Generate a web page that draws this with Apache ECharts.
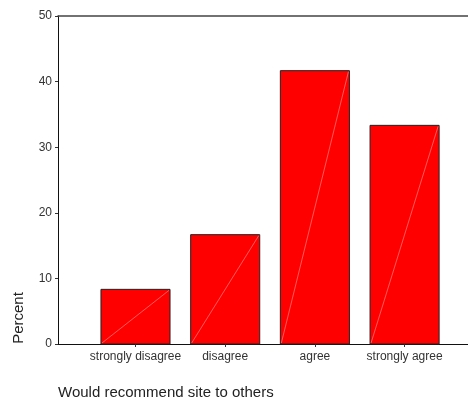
<!DOCTYPE html>
<html>
<head>
<meta charset="utf-8">
<script src="https://cdn.jsdelivr.net/npm/echarts@6/dist/echarts.min.js"></script>
<style>html,body{margin:0;padding:0;background:#fff}#c{width:468px;height:400px}</style>
</head>
<body>
<div id="c"></div>
<script>
const categories = ['strongly disagree', 'disagree', 'agree', 'strongly agree'];
const percents = [8.33, 16.67, 41.67, 33.33];
const yTicks = [0, 10, 20, 30, 40, 50];
const xTitle = 'Would recommend site to others';
const yTitle = 'Percent';

const chart = echarts.init(document.getElementById('c'));
const barHalf = 0.385;
const font = 'Liberation Sans, Arial, sans-serif';

chart.setOption({
  animation: false,
  grid: { left: 58, right: 0, top: 16, bottom: 56 },
  xAxis: [{
    type: 'value',
    min: -0.864,
    max: 3.707,
    splitLine: { show: false },
    axisLine: { show: true, onZero: false, lineStyle: { color: '#111', width: 1 } },
    axisTick: { show: true, customValues: [0, 1, 2, 3], length: 3, lineStyle: { color: '#333' } },
    axisLabel: {
      customValues: [0, 1, 2, 3],
      formatter: v => categories[Math.round(v)],
      color: '#333', fontSize: 12, fontFamily: font, margin: 7
    }
  }, {
    type: 'value',
    position: 'top',
    min: -0.864,
    max: 3.707,
    splitLine: { show: false },
    axisLine: { show: true, onZero: false, lineStyle: { color: '#444', width: 1.5 } },
    axisTick: { show: false },
    axisLabel: { show: false }
  }],
  yAxis: {
    type: 'value',
    min: yTicks[0],
    max: yTicks[yTicks.length - 1],
    interval: 10,
    splitLine: { show: false },
    axisLine: { show: true, onZero: false, lineStyle: { color: '#111', width: 1 } },
    axisTick: { show: true, length: 3, lineStyle: { color: '#333' } },
    axisLabel: { color: '#333', fontSize: 12, fontFamily: font, margin: 6 }
  },
  graphic: [{
    type: 'text',
    x: 19, y: 318,
    rotation: Math.PI / 2,
    style: { text: yTitle, fill: '#222', font: '15px ' + font, align: 'center', verticalAlign: 'middle' }
  }, {
    type: 'text',
    x: 58, y: 393,
    style: { text: xTitle, fill: '#222', font: '15px ' + font, align: 'left', verticalAlign: 'middle' }
  }],
  series: [{
    type: 'custom',
    data: percents.map((v, i) => [i, v]),
    renderItem: (params, api) => {
      const i = api.value(0), v = api.value(1);
      const tl = api.coord([i - barHalf, v]);
      const br = api.coord([i + barHalf, 0]);
      return {
        type: 'group',
        children: [{
          type: 'rect',
          shape: { x: tl[0], y: tl[1], width: br[0] - tl[0], height: br[1] - tl[1] },
          style: { fill: '#ff0000', stroke: '#222', lineWidth: 1 }
        }, {
          type: 'line',
          shape: { x1: tl[0] + 1, y1: br[1] - 1, x2: br[0] - 1, y2: tl[1] + 1 },
          style: { stroke: 'rgba(255,190,190,0.8)', lineWidth: 0.6 }
        }]
      };
    }
  }]
});
</script>
</body>
</html>
